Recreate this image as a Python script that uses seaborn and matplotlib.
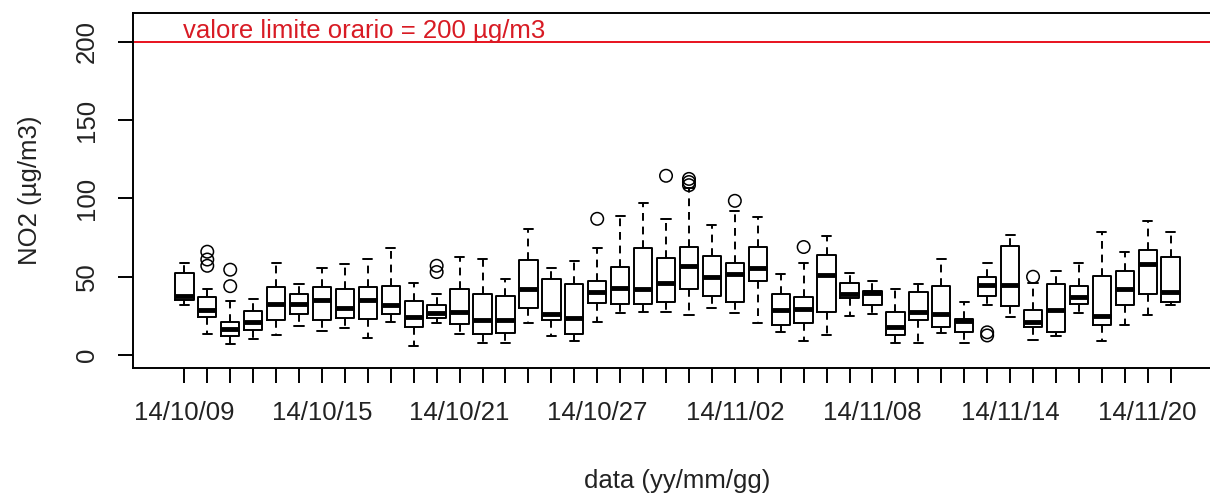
import matplotlib
matplotlib.use("Agg")
import matplotlib.pyplot as plt
import numpy as np
import pandas as pd
import seaborn as sns

dates = ["14/10/09", "14/10/10", "14/10/11", "14/10/12", "14/10/13", "14/10/14",
         "14/10/15", "14/10/16", "14/10/17", "14/10/18", "14/10/19", "14/10/20",
         "14/10/21", "14/10/22", "14/10/23", "14/10/24", "14/10/25", "14/10/26",
         "14/10/27", "14/10/28", "14/10/29", "14/10/30", "14/10/31", "14/11/01",
         "14/11/02", "14/11/03", "14/11/04", "14/11/05", "14/11/06", "14/11/07",
         "14/11/08", "14/11/09", "14/11/10", "14/11/11", "14/11/12", "14/11/13",
         "14/11/14", "14/11/15", "14/11/16", "14/11/17", "14/11/18", "14/11/19",
         "14/11/20", "14/11/21"]

whisker_low = [32, 13.2, 7, 10.1, 12.8, 18.5, 15.4, 17.4, 11.1, 21.3, 6, 20.2, 13.2, 7.9, 7.9,
               20.2, 12.2, 8.9, 21.3, 26.6, 27.5, 27.7, 25.5, 29.8, 26.8, 20.2, 14.9, 8.9,
               12.7, 24.9, 26.4, 7.9, 7.5, 13.8, 7.9, 31.7, 24.5, 9.6, 12.2, 26.6, 8.9, 19.2,
               25.5, 31.9]
q1 = [35, 24.3, 12.2, 16, 22.2, 26.4, 22.2, 23.4, 23.2, 26.4, 18.1, 23.4, 20, 13.2, 13.8,
      29.8, 22.2, 13.2, 33, 32.6, 32.6, 34.1, 42.1, 37.8, 33.9, 47.3, 19.2, 20.2, 27.6, 36.6,
      31.7, 12.8, 22.2, 18.1, 14.9, 37.7, 31.5, 17.6, 14.9, 32.6, 19.4, 31.7, 39, 33.6]
median = [37.5, 28.5, 16.4, 20.9, 32.6, 32.6, 35.1, 29.8, 35.1, 31.7, 24.5, 26.6, 27.6, 22.4,
          22.4, 42.1, 26.2, 23.4, 40.3, 42.6, 42.1, 46.2, 56.9, 49.9, 51.8, 55.9, 28.8, 29.6,
          50.8, 38.8, 39.4, 18.1, 27.5, 26.2, 21.7, 44.6, 44.6, 21.1, 28.8, 37.3, 24.7, 42.1,
          58, 40.3]
q3 = [52.5, 36.8, 20.9, 28.3, 43.5, 39, 43.3, 41.9, 43.3, 44.1, 34.7, 31.7, 42, 39, 37.7,
      60.7, 48.3, 45.1, 47.3, 56.5, 68.2, 61.8, 69.3, 63.1, 58.6, 69.3, 38.8, 37.1, 64, 46.2,
      41.1, 27.3, 40.1, 44.1, 23.2, 49.9, 69.5, 28.8, 45.3, 44.1, 50.7, 53.6, 67.1, 62.8]
whisker_high = [58.6, 41.9, 34.5, 35.5, 58.6, 45.1, 55.4, 57.9, 61.1, 68.2, 46.2, 38.8, 62.7,
                61.1, 48.6, 80.2, 55.4, 60.1, 68.2, 89, 97.3, 86.9, 106.5, 82.9, 92, 88, 51.5,
                58.6, 76.3, 52.2, 47.3, 42.1, 45.1, 61.1, 33.6, 58.6, 76.5, 46, 53.6, 58.6,
                78.6, 66.1, 85.6, 78.8]

outlier_dates = ["14/10/10", "14/10/10", "14/10/10", "14/10/11", "14/10/11", "14/10/20",
                 "14/10/20", "14/10/27", "14/10/30", "14/10/31", "14/10/31", "14/10/31",
                 "14/11/02", "14/11/05", "14/11/13", "14/11/13", "14/11/15"]
outlier_values = [66, 61, 57, 54.5, 44, 57, 53, 87, 114.5, 112.5, 110.5, 108.5, 98.5, 69,
                  14.5, 12.5, 50]

tick_labels = ["14/10/09", "14/10/15", "14/10/21", "14/10/27", "14/11/02", "14/11/08",
               "14/11/14", "14/11/20"]
yticks = [0, 50, 100, 150, 200]
limit_value = 200

# long-format table built from the five-number summaries
rows = []
for d, a, b, c, e, f in zip(dates, whisker_low, q1, median, q3, whisker_high):
    for v in (a, b, c, e, f):
        rows.append((d, v))
df = pd.DataFrame(rows, columns=["data", "NO2"])
df_out = pd.DataFrame({"data": outlier_dates, "NO2": outlier_values})

sns.set_style("white")
plt.rcParams["font.family"] = ["Liberation Sans", "DejaVu Sans"]

fig = plt.figure(figsize=(12.1, 4.95), dpi=100)
ax = fig.add_axes([132.5 / 1210, 1 - 367.7 / 495, 1090 / 1210, (367.7 - 13.3) / 495])

lw = 1.4
sns.boxplot(data=df, x="data", y="NO2", order=dates, whis=(0, 100), fill=False,
            color="black", linecolor="black", width=0.8, showfliers=False,
            linewidth=lw,
            boxprops=dict(linewidth=lw),
            whiskerprops=dict(linestyle=(0, (4, 3)), linewidth=lw),
            capprops=dict(linewidth=lw),
            medianprops=dict(linewidth=3.5, color="black"),
            ax=ax)

n_before = len(ax.collections)
sns.stripplot(data=df_out, x="data", y="NO2", order=dates, jitter=False,
              color="white", edgecolor="black", linewidth=1.1, size=9, ax=ax, zorder=4)
for coll in ax.collections[n_before:]:
    coll.set_facecolor("none")
    coll.set_edgecolor("black")

ax.axhline(limit_value, color="#e8121e", linewidth=1.4, zorder=1)
ax.text(-0.06, limit_value + 2.6, "valore limite orario = 200 µg/m3", color="#d81b24",
        fontsize=18.5, ha="left", va="baseline")

ax.set_xlim(-2.26, len(dates) - 1 + 2.26)
ax.set_ylim(-8.1, 218.3)

ax.set_xticks(range(len(dates)))
ax.set_xticklabels([d if d in tick_labels else "" for d in dates], fontsize=18.5)
ax.set_yticks(yticks)
ax.set_yticklabels([str(v) for v in yticks], rotation=90, va="center", fontsize=18.5)
ax.tick_params(axis="both", direction="out", length=11, width=lw, color="black",
               labelcolor="#222222")
ax.tick_params(axis="x", pad=13)
ax.tick_params(axis="y", pad=13)
ax.tick_params(left=True, bottom=True)

for s in ax.spines.values():
    s.set_visible(True)
    s.set_color("black")
    s.set_linewidth(lw)

ax.set_xlabel("data (yy/mm/gg)", fontsize=18.5, labelpad=32, color="#222222")
ax.set_ylabel("NO2 (µg/m3)", fontsize=18.5, labelpad=24, color="#222222")
ax.grid(False)

fig.savefig("out.png", dpi=100)
